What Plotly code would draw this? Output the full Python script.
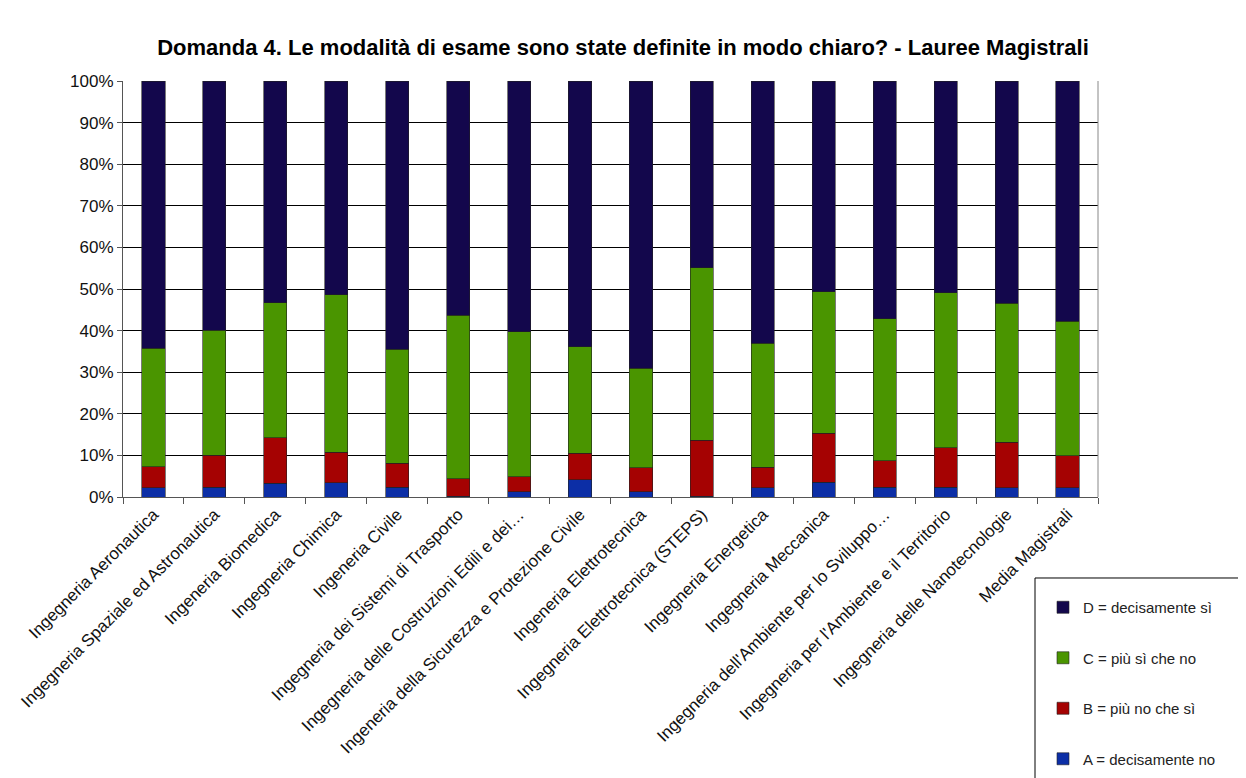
import plotly.graph_objects as go

categories = [
    "Ingegneria Aeronautica",
    "Ingegneria Spaziale ed Astronautica",
    "Ingeneria Biomedica",
    "Ingegneria Chimica",
    "Ingeneria Civile",
    "Ingegneria dei Sistemi di Trasporto",
    "Ingegneria delle Costruzioni Edili e dei…",
    "Ingeneria della Sicurezza e Protezione Civile",
    "Ingeneria Elettrotecnica",
    "Ingegneria Elettrotecnica (STEPS)",
    "Ingegneria Energetica",
    "Ingegneria Meccanica",
    "Ingegneria dell'Ambiente per lo Sviluppo…",
    "Ingegneria per l'Ambiente e il Territorio",
    "Ingegneria delle Nanotecnologie",
    "Media Magistrali",
]

# percentages
a_decisamente_no = [2.2, 2.4, 3.3, 3.4, 2.4, 0.2, 1.3, 4.1, 1.3, 0.2, 2.2, 3.6, 2.4, 2.4, 2.2, 2.2]
b_piu_no = [5.1, 7.6, 11.0, 7.4, 5.7, 4.2, 3.6, 6.4, 5.7, 13.5, 4.9, 11.7, 6.3, 9.5, 11.0, 7.7]
c_piu_si = [28.5, 30.1, 32.4, 37.8, 27.4, 39.3, 34.8, 25.6, 24.0, 41.4, 29.9, 34.1, 34.2, 37.2, 33.4, 32.3]
d_decisamente_si = [64.2, 59.9, 53.3, 51.4, 64.5, 56.3, 60.3, 63.9, 69.0, 44.9, 63.0, 50.6, 57.1, 50.9, 53.4, 57.8]

series = [
    ("A = decisamente no", a_decisamente_no, "#0c2ea6"),
    ("B = più no che sì", b_piu_no, "#a50202"),
    ("C = più sì che no", c_piu_si, "#4a9500"),
    ("D = decisamente sì", d_decisamente_si, "#13074c"),
]

fig = go.Figure()
for i, (name, vals, col) in enumerate(series):
    fig.add_trace(go.Bar(
        x=categories, y=vals, name=name, legendgroup=name,
        legendrank=len(series) - i,  # D on top of the legend
        marker=dict(color=col, line=dict(color="#222222", width=0.6)),
    ))

# page has an 8px body margin, so the figure is a bit smaller than the window
W, H = 1238, 770
fig.update_layout(
    barmode="stack",
    bargap=0.62,
    width=W, height=H,
    paper_bgcolor="white", plot_bgcolor="white",
    margin=dict(l=115, r=148, t=73, b=281, autoexpand=False),
    font=dict(family="Liberation Sans, Arial, sans-serif", color="#111111"),
    title=dict(
        text="<b>Domanda 4. Le modalità di esame sono state definite in modo chiaro? - Lauree Magistrali</b>",
        x=615 / W, xref="container", xanchor="center",
        y=1 - 39 / H, yref="container", yanchor="middle",
        font=dict(family="Liberation Sans, Arial", size=22, color="black"),
    ),
    legend=dict(
        traceorder="grouped",
        x=0.9436, y=-0.226, xanchor="left", yanchor="top",
        borderwidth=0, bgcolor="rgba(0,0,0,0)",
        font=dict(size=15, color="#222222"),
        tracegroupgap=28,
    ),
)
fig.update_yaxes(
    range=[0, 100], dtick=10, ticksuffix="%",
    showgrid=True, gridcolor="black", gridwidth=1,
    showline=True, linecolor="#555555", linewidth=1,
    ticks="outside", ticklen=5, tickcolor="#555555",
    tickfont=dict(size=17, color="#111111"),
    zeroline=False, fixedrange=True,
)
fig.update_xaxes(
    tickangle=-45, tickson="boundaries",
    showline=True, linecolor="#555555", linewidth=1, mirror=False,
    ticks="outside", ticklen=6, tickcolor="#555555",
    tickfont=dict(size=17, color="#111111"),
    automargin=False,
)
# right border of plot area
fig.add_shape(type="line", xref="paper", yref="paper", x0=1, x1=1, y0=0, y1=1,
              line=dict(color="#888888", width=1))
# legend frame, running off the page like in the original
fig.add_shape(type="rect", xref="paper", yref="paper",
              x0=0.9354, x1=1.16, y0=-0.1947, y1=-0.70,
              line=dict(color="black", width=1), fillcolor="rgba(0,0,0,0)")

fig.write_html("out.html")
